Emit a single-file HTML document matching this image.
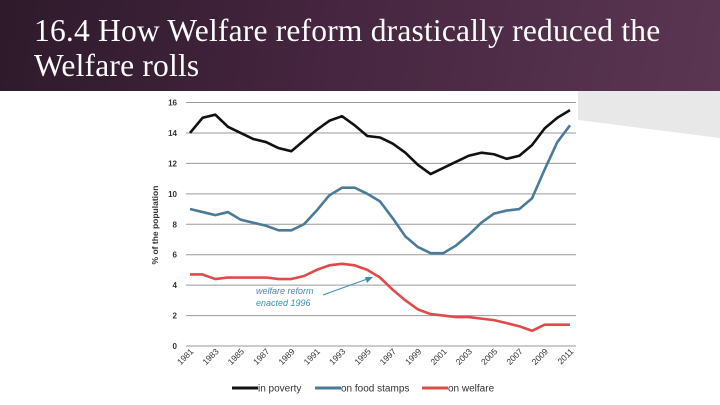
<!DOCTYPE html>
<html><head><meta charset="utf-8"><style>
html,body{margin:0;padding:0;width:720px;height:405px;overflow:hidden;background:#fff;font-family:"Liberation Sans",sans-serif}
#hdr{position:absolute;left:0;top:0;width:720px;height:91px;background:linear-gradient(100deg,#2e1a2b 0%,#45253f 45%,#5b3653 100%)}
#title{position:absolute;left:34px;top:13px;color:#fff;font-family:"Liberation Serif",serif;font-size:31.5px;line-height:35px;letter-spacing:0.2px;white-space:nowrap}
svg{position:absolute;left:0;top:0}
</style></head><body>
<div id="hdr"><div id="title">16.4 How Welfare reform drastically reduced the<br>Welfare rolls</div></div>
<svg width="720" height="405" id="chart">
<polygon points="578,91 720,91 720,138 578,120" fill="#e8e8e8"/>
</svg>
<script>
const years=[1981,1982,1983,1984,1985,1986,1987,1988,1989,1990,1991,1992,1993,1994,1995,1996,1997,1998,1999,2000,2001,2002,2003,2004,2005,2006,2007,2008,2009,2010,2011];
const poverty=[14.0,15.0,15.2,14.4,14.0,13.6,13.4,13.0,12.8,13.5,14.2,14.8,15.1,14.5,13.8,13.7,13.3,12.7,11.9,11.3,11.7,12.1,12.5,12.7,12.6,12.3,12.5,13.2,14.3,15.0,15.5];
const foodStamps=[9.0,8.8,8.6,8.8,8.3,8.1,7.9,7.6,7.6,8.0,8.9,9.9,10.4,10.4,10.0,9.5,8.4,7.2,6.5,6.1,6.1,6.6,7.3,8.1,8.7,8.9,9.0,9.7,11.6,13.4,14.5];
const welfare=[4.7,4.7,4.4,4.5,4.5,4.5,4.5,4.4,4.4,4.6,5.0,5.3,5.4,5.3,5.0,4.5,3.7,3.0,2.4,2.1,2.0,1.9,1.9,1.8,1.7,1.5,1.3,1.0,1.4,1.4,1.4];
const yTicks=[0,2,4,6,8,10,12,14,16];
const xTickYears=[1981,1983,1985,1987,1989,1991,1993,1995,1997,1999,2001,2003,2005,2007,2009,2011];
const NS='http://www.w3.org/2000/svg';
const svg=document.getElementById('chart');
const x=v=>190+(v-1981)*(380/30);
const y=v=>346-v*(243.5/16);
function mk(t,a){const e=document.createElementNS(NS,t);for(const k in a)e.setAttribute(k,a[k]);svg.appendChild(e);return e;}
yTicks.forEach(t=>{
 const l=mk('line',{x1:186,x2:576,y1:y(t),y2:y(t),stroke:'#9a9a9a','stroke-width':1});
 
 
 const tx=mk('text',{x:177,y:y(t)+3,'text-anchor':'end','font-size':'8',fill:'#333','font-weight':'bold'});
 tx.textContent=t;
 
 
});
xTickYears.forEach(yr=>{
 const tx=mk('text',{x:x(yr)+4,y:352,'text-anchor':'end','font-size':'8.5',fill:'#333',transform:`rotate(-45 ${x(yr)+4} 352)`});
 tx.textContent=yr;
 
 
});
const yt=mk('text',{x:158,y:225,'text-anchor':'middle','font-size':'8.5','font-weight':'bold',fill:'#333',transform:'rotate(-90 158 225)'});
yt.textContent='% of the population';


function series(arr,col,name){
 const p=mk('polyline',{points:arr.map((v,i)=>x(years[i])+','+y(v)).join(' '),fill:'none',stroke:col,'stroke-width':2.6,'stroke-linejoin':'round'});
 
 
}
series(poverty,'#111','line-in-poverty');
series(foodStamps,'#4a7b98','line-food-stamps');
series(welfare,'#e04a4a','line-on-welfare');
const a1=mk('text',{x:256,y:294,'font-size':'9','font-style':'italic',fill:'#3a8fb0'});a1.textContent='welfare reform';


const a2=mk('text',{x:256,y:306,'font-size':'9','font-style':'italic',fill:'#3a8fb0'});a2.textContent='enacted 1996';


const ar=mk('line',{x1:323,y1:295,x2:370,y2:278,stroke:'#3a8fb0','stroke-width':1});


const ah=mk('polygon',{points:'373,277 365,277 367,283',fill:'#3a8fb0'});


[['in poverty','#111',232],['on food stamps','#4a7b98',315],['on welfare','#e04a4a',422]].forEach(([lab,col,lx])=>{
 const l=mk('line',{x1:lx,x2:lx+26,y1:388,y2:388,stroke:col,'stroke-width':3});
 
 
 const t=mk('text',{x:lx+26,y:391.5,'font-size':'10',fill:'#333'});t.textContent=lab;
 
 
});
</script>
</body></html>
